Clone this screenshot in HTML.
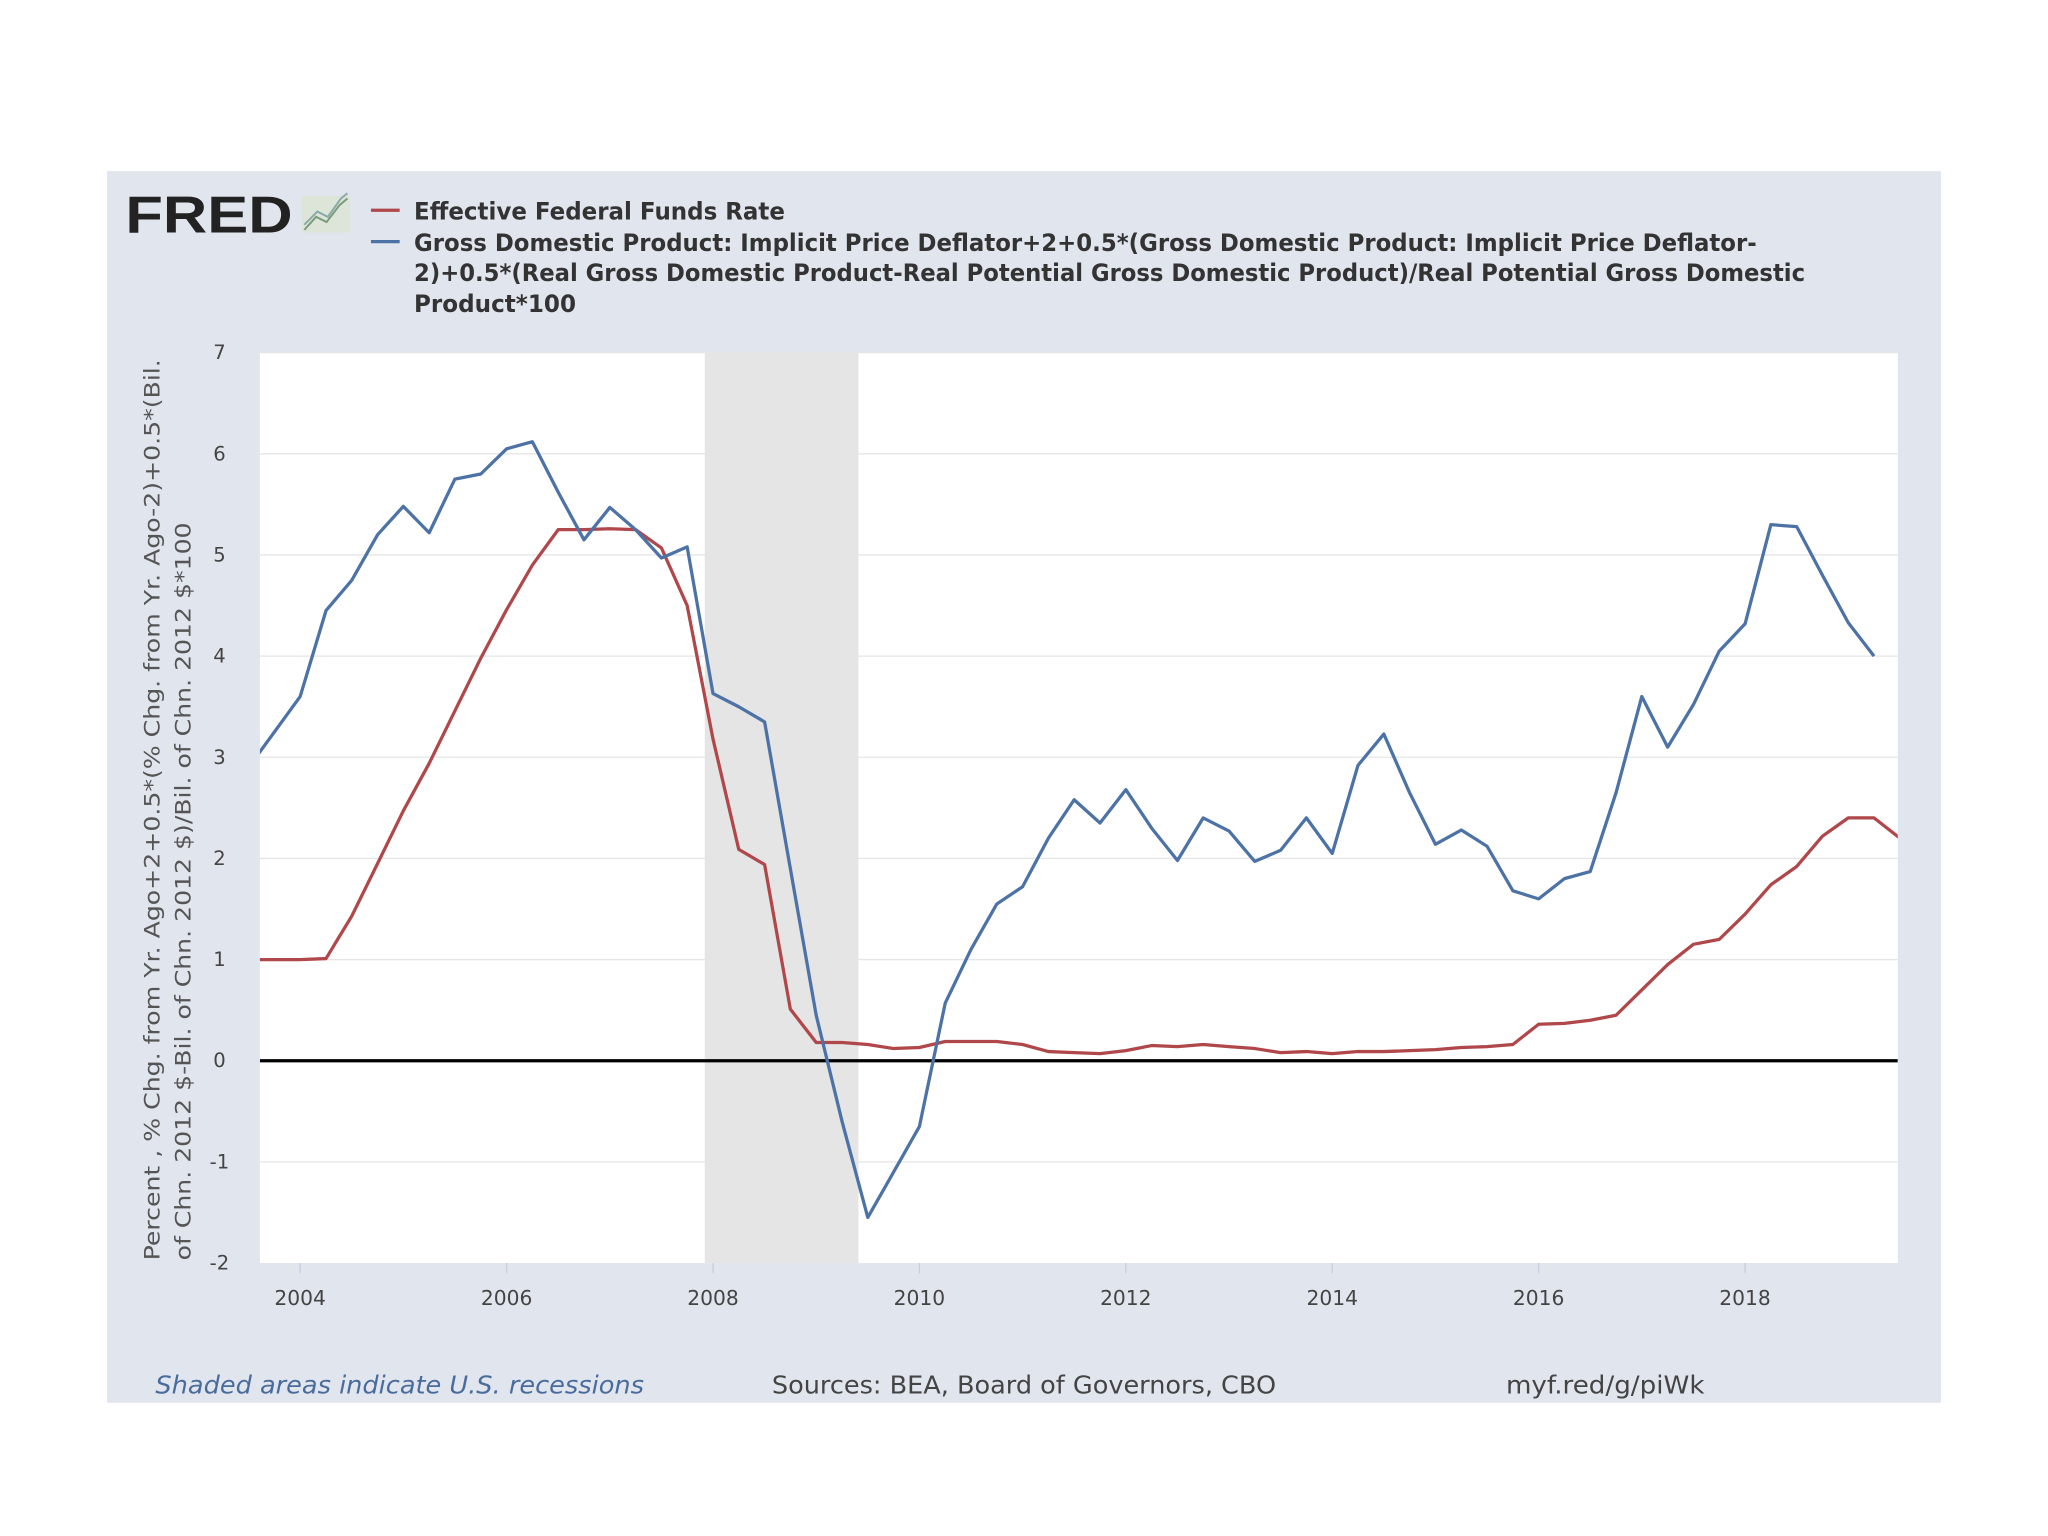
<!DOCTYPE html>
<html><head><meta charset="utf-8"><style>
html,body{margin:0;padding:0;background:#fff;}
svg{display:block;font-family:"DejaVu Sans","Liberation Sans",sans-serif;}
</style></head><body>
<svg id="chart" width="2048" height="1536" viewBox="0 0 1568 1176" preserveAspectRatio="none" xmlns="http://www.w3.org/2000/svg">
<defs><clipPath id="clip"><rect x="199" y="270" width="1254" height="697"/></clipPath></defs>
<rect x="82" y="131" width="1404" height="943" fill="#e1e6ee"/>
<rect x="199" y="270" width="1254" height="697" fill="#ffffff"/>
<g id="grid"></g>
<g id="recess"></g>
<g>
<text x="96" y="178" font-family="Liberation Sans, sans-serif" font-weight="bold" font-size="40" fill="#222" textLength="128" lengthAdjust="spacingAndGlyphs">FRED</text>
<rect x="231" y="150" width="37" height="28" fill="#dde4d8"/>
<polyline points="233,176 242,166 250,170 260,157 266,152" fill="none" stroke="#7a9a7a" stroke-width="1.5"/>
<polyline points="233,172 243,162 251,166 261,152 266,148" fill="none" stroke="#8aa" stroke-width="1.5"/>
</g>
<g font-weight="bold" font-size="18.5" fill="#333">
<line x1="284" y1="161" x2="306" y2="161" stroke="#b0474a" stroke-width="2.5"/>
<text x="317" y="168" textLength="284" lengthAdjust="spacingAndGlyphs">Effective Federal Funds Rate</text>
<line x1="284" y1="185" x2="306" y2="185" stroke="#4c72a6" stroke-width="2.5"/>
<text x="317" y="192" textLength="1028" lengthAdjust="spacingAndGlyphs">Gross Domestic Product: Implicit Price Deflator+2+0.5*(Gross Domestic Product: Implicit Price Deflator-</text>
<text x="317" y="215" textLength="1065" lengthAdjust="spacingAndGlyphs">2)+0.5*(Real Gross Domestic Product-Real Potential Gross Domestic Product)/Real Potential Gross Domestic</text>
<text x="317" y="239" textLength="124" lengthAdjust="spacingAndGlyphs">Product*100</text>
</g>
<g id="yticks" font-size="15" fill="#444"></g>
<g id="xticks" font-size="15.5" fill="#444"></g>
<g font-size="16" fill="#555" transform="translate(0,965) rotate(-90)">
<text x="0" y="122" textLength="690" lengthAdjust="spacingAndGlyphs">Percent , % Chg. from Yr. Ago+2+0.5*(% Chg. from Yr. Ago-2)+0.5*(Bil.</text>
<text x="0" y="146" textLength="565" lengthAdjust="spacingAndGlyphs">of Chn. 2012 $-Bil. of Chn. 2012 $)/Bil. of Chn. 2012 $*100</text>
</g>
<g id="series" clip-path="url(#clip)"></g>
<text x="119" y="1067" font-size="19" font-style="italic" fill="#4a6c9c" textLength="374" lengthAdjust="spacingAndGlyphs">Shaded areas indicate U.S. recessions</text>
<text x="591" y="1067" font-size="19" fill="#444" textLength="386" lengthAdjust="spacingAndGlyphs">Sources: BEA, Board of Governors, CBO</text>
<text x="1153" y="1067" font-size="19" fill="#444" textLength="152" lengthAdjust="spacingAndGlyphs">myf.red/g/piWk</text>
</svg>
<script>
const startYear = 2003.5;
const fedFunds = [1.0,1.0,1.0,1.01,1.43,1.95,2.47,2.94,3.46,3.98,4.46,4.9,5.25,5.25,5.26,5.25,5.07,4.5,3.18,2.09,1.94,0.51,0.18,0.18,0.16,0.12,0.13,0.19,0.19,0.19,0.16,0.09,0.08,0.07,0.1,0.15,0.14,0.16,0.14,0.12,0.08,0.09,0.07,0.09,0.09,0.1,0.11,0.13,0.14,0.16,0.36,0.37,0.4,0.45,0.7,0.95,1.15,1.2,1.45,1.74,1.92,2.22,2.4,2.4,2.2];
const gdpRule = [2.9,3.25,3.6,4.45,4.75,5.2,5.48,5.22,5.75,5.8,6.05,6.12,5.62,5.15,5.47,5.25,4.97,5.08,3.63,3.5,3.35,1.9,0.45,-0.6,-1.55,-1.1,-0.65,0.57,1.1,1.55,1.72,2.2,2.58,2.35,2.68,2.3,1.98,2.4,2.27,1.97,2.08,2.4,2.05,2.92,3.23,2.65,2.14,2.28,2.12,1.68,1.6,1.8,1.87,2.65,3.6,3.1,3.52,4.05,4.32,5.3,5.28,4.8,4.33,4.0];
const yTicks = [-2,-1,0,1,2,3,4,5,6,7];
const xTicks = [2004,2006,2008,2010,2012,2014,2016,2018];
const recessions = [[2007.92,2009.41]];

const NS="http://www.w3.org/2000/svg";
const X0=199,X1=1453,Y0=967,Y1=270,xmin=2003.61,xmax=2019.48,ymin=-2,ymax=7;
function xs(t){return X0+(t-xmin)/(xmax-xmin)*(X1-X0);}
function ys(v){return Y0-(v-ymin)/(ymax-ymin)*(Y0-Y1);}
function mk(tag,attrs,parent){const e=document.createElementNS(NS,tag);for(const k in attrs)e.setAttribute(k,attrs[k]);parent.appendChild(e);return e;}
const grid=document.getElementById('grid'),yt=document.getElementById('yticks'),xt=document.getElementById('xticks');
yTicks.forEach(v=>{
  if(v!==0&&v!==ymin){const l=mk('line',{x1:X0,x2:X1,y1:ys(v),y2:ys(v),stroke:'#e6e6e6','stroke-width':1},grid);
  
  }
  const t=mk('text',{x:168,y:ys(v)+5,'text-anchor':'middle'},yt);t.textContent=v;
  
  
});
xTicks.forEach(v=>{
  const t=mk('text',{x:xs(v),y:999,'text-anchor':'middle'},xt);t.textContent=v;
  
  
  const k=mk('line',{x1:xs(v),x2:xs(v),y1:Y0,y2:Y0+8,stroke:'#ccd',"stroke-width":1},xt);
  
  
});
const rg=document.getElementById('recess');
recessions.forEach(r=>{
  const e=mk('rect',{x:xs(r[0]),y:Y1,width:xs(r[1])-xs(r[0]),height:Y0-Y1,fill:'#e5e5e5'},rg);
  
  
});
const sg=document.getElementById('series');
const zl=mk('line',{x1:X0,x2:X1,y1:ys(0),y2:ys(0),stroke:'#000','stroke-width':2.5},sg);


function line(arr,color,name){
  const pts=arr.map((v,i)=>xs(startYear+i*0.25).toFixed(1)+','+ys(v).toFixed(1)).join(' ');
  const p=mk('polyline',{points:pts,fill:'none',stroke:color,'stroke-width':2.5,'stroke-linejoin':'round'},sg);
  
  
}
line(fedFunds,'#b0474a','fed-funds-line');
line(gdpRule,'#4c72a6','gdp-rule-line');
</script>
</body></html>
